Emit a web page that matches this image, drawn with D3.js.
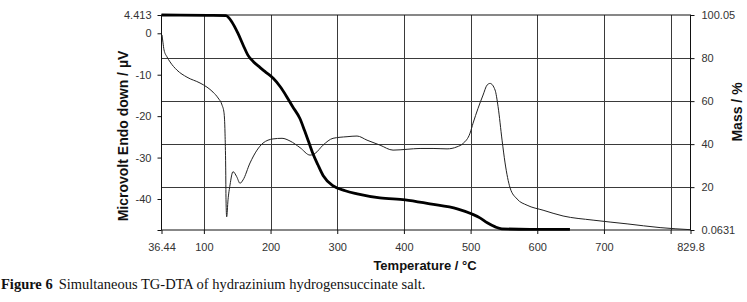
<!DOCTYPE html>
<html><head><meta charset="utf-8">
<script src="https://cdn.jsdelivr.net/npm/d3@7"></script>
<style>body{margin:0;background:#fff}svg{display:block}</style>
</head><body><svg id="c" width="747" height="302"></svg>
<script>
// DTA curve (thin, left axis, µV)
const dtaTemp  = [37.2,38.7,40.2,44.7,49.2,59.7,74.7,94.2,104.7,113.7,121.2,127.2,130.2,131.7,132.7,133.2,134.2,136.2,139.2,143.7,149.2,154.2,158.7,169.2,179.7,188.7,203.7,217.2,229.2,244.2,259.2,266.7,278.7,293.7,314.7,329.7,344.7,364.2,383.7,404.7,424.2,443.7,464.7,479.7,488.7,499.2,503.7,511.2,518.7,524.7,529.2,536.7,541.2,547.2,551.7,559.2,569.7,584.7,608.7,638.7,683.7,734.7,784.2,829.2];
const dtaValue = [-0.4,-2.3,-4.0,-5.7,-6.9,-8.9,-10.6,-12.0,-13.0,-14.2,-15.6,-17.3,-19.2,-24.1,-32.3,-40.2,-44.3,-40.2,-36.6,-33.4,-34.6,-36.2,-35.4,-31.3,-28.2,-26.5,-25.5,-25.35,-26.0,-27.6,-29.4,-29.0,-27.0,-25.35,-24.96,-24.8,-25.8,-27.0,-28.2,-28.0,-27.8,-27.8,-27.9,-27.4,-26.6,-24.1,-21.7,-18.1,-14.9,-12.5,-12.1,-13.7,-17.7,-25.8,-31.3,-37.3,-40.0,-41.5,-42.7,-44.1,-45.1,-46.0,-46.9,-47.4];
// TG curve (thick, right axis, mass %)
const tgTemp = [36.44,106,133,142,151,159,166,175,184,193,204,214,224,233,244,251,257,263,271,279,294,312,330,364,402,439,480,502,514,525,537,547,589,649];
const tgMass = [100.05,99.9,99.8,96.8,91.6,86.0,81.4,78.1,75.7,73.4,70.6,66.9,62.2,57.5,51.9,46.3,41.2,36.0,30.4,25.3,20.6,18.3,16.9,15.0,14.1,12.2,9.9,7.5,5.7,3.4,1.5,0.6,0.4,0.4];
// Axes
const xDomain = [36.44, 829.8];
const xTicks = [36.44,100,200,300,400,500,600,700,800,829.8];
const xTickLabels = ["36.44","100","200","300","400","500","600","700","","829.8"];
const xGrid = [100,200,300,400,500,600,700,800];
const leftDomain = [-47.48, 4.413];
const leftTicks = [4.413,0,-10,-20,-30,-40,-47.48];
const leftTickLabels = ["4.413","0","-10","-20","-30","-40",""];
const rightDomain = [0.0631, 100.05];
const rightTicks = [100.05,80,60,40,20,0.0631];
const rightTickLabels = ["100.05","80","60","40","20","0.0631"];
const rightGrid = [20,40,60,80];

const L=161.5, R=690.5, T=15, B=230;
const svg = d3.select("#c");
const x = d3.scaleLinear().domain(xDomain).range([L,R]);
const yL = d3.scaleLinear().domain(leftDomain).range([B,T]);
const yR = d3.scaleLinear().domain(rightDomain).range([B,T]);

const font = "'Liberation Sans', Arial, sans-serif";

// gridlines
const g = svg.append("g").attr("stroke","#3a3a3a").attr("stroke-width",1);
g.selectAll(".vg").data(xGrid).join("line")
  .attr("x1",d=>Math.round(x(d))+0.5).attr("x2",d=>Math.round(x(d))+0.5)
  .attr("y1",T).attr("y2",B);
g.selectAll(".hg").data(rightGrid).join("line")
  .attr("x1",L).attr("x2",R)
  .attr("y1",d=>Math.round(yR(d))+0.5).attr("y2",d=>Math.round(yR(d))+0.5);

// frame
svg.append("rect").attr("x",L).attr("y",T).attr("width",R-L).attr("height",B-T)
  .attr("fill","none").attr("stroke","#111").attr("stroke-width",1);

// curves
const dtaLine = d3.line().x(d=>x(d[0])).y(d=>yL(d[1])).curve(d3.curveMonotoneX);
svg.append("path").datum(d3.zip(dtaTemp,dtaValue)).attr("d",dtaLine)
  .attr("fill","none").attr("stroke","#222").attr("stroke-width",1);
const tgLine = d3.line().x(d=>x(d[0])).y(d=>yR(d[1])).curve(d3.curveMonotoneX);
svg.append("path").datum(d3.zip(tgTemp,tgMass)).attr("d",tgLine)
  .attr("fill","none").attr("stroke","#000").attr("stroke-width",2.8).attr("stroke-linejoin","round");

// axes
function styleAxis(sel){
  sel.select(".domain").remove();
  sel.selectAll(".tick line").attr("stroke","#111");
  sel.selectAll(".tick text").attr("fill","#333").style("font-family",font).style("font-size","11px");
}
svg.append("g").attr("transform",`translate(0,${B})`)
  .call(d3.axisBottom(x).tickValues(xTicks).tickFormat((d,i)=>xTickLabels[i]).tickSize(4).tickPadding(9))
  .call(styleAxis);
svg.append("g").attr("transform",`translate(${L},0)`)
  .call(d3.axisLeft(yL).tickValues(leftTicks).tickFormat((d,i)=>leftTickLabels[i]).tickSize(4).tickPadding(6))
  .call(styleAxis);
svg.append("g").attr("transform",`translate(${R},0)`)
  .call(d3.axisRight(yR).tickValues(rightTicks).tickFormat((d,i)=>rightTickLabels[i]).tickSize(4).tickPadding(7))
  .call(styleAxis);

// titles
svg.append("text").attr("transform","translate(128,136) rotate(-90)").attr("text-anchor","middle")
  .style("font-family",font).style("font-weight","bold").style("font-size","14px").attr("fill","#111")
  .text("Microvolt Endo down / µV");
svg.append("text").attr("transform","translate(742,112) rotate(-90)").attr("text-anchor","middle")
  .style("font-family",font).style("font-weight","bold").style("font-size","14px").attr("fill","#111")
  .text("Mass / %");
svg.append("text").attr("x",425).attr("y",270).attr("text-anchor","middle")
  .style("font-family",font).style("font-weight","bold").style("font-size","13px").attr("fill","#111")
  .text("Temperature / °C");

// caption
const cap = svg.append("text").attr("x",1).attr("y",289)
  .style("font-family","'Liberation Serif','Times New Roman',serif").style("font-size","14.5px").attr("fill","#111");
cap.append("tspan").style("font-weight","bold").text("Figure 6");
cap.append("tspan").attr("dx",6).text("Simultaneous TG-DTA of hydrazinium hydrogensuccinate salt.");
</script></body></html>
